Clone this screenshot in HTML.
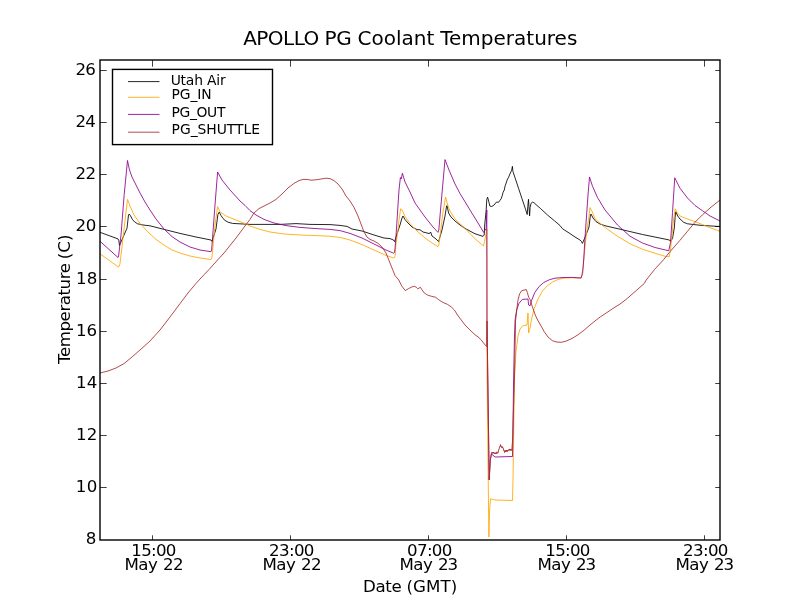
<!DOCTYPE html>
<html><head><meta charset="utf-8"><title>APOLLO PG Coolant Temperatures</title>
<style>
html,body{margin:0;padding:0;background:#fff;}
body{width:800px;height:600px;overflow:hidden;}
svg{display:block;}
text{font-family:"DejaVu Sans", "Liberation Sans", sans-serif;fill:#000;}
</style></head><body>
<svg width="800" height="600" viewBox="0 0 800 600">
<rect x="0" y="0" width="800" height="600" fill="#ffffff"/>
<defs><clipPath id="ax"><rect x="100" y="60" width="620" height="480"/></clipPath></defs>
<g clip-path="url(#ax)" fill="none" stroke-width="0.85" stroke-linejoin="round">
<path stroke="#000000" d="M100.00,232.30 L118.00,238.90 L118.80,240.50 L119.50,245.50 L120.20,243.80 L127.00,228.25 L128.50,214.90 L129.25,214.00 L130.50,215.80 L132.25,219.25 L134.50,221.80 L137.50,223.75 L141.00,224.60 L145.00,225.25 L150.00,225.80 L164.00,229.40 L180.00,233.40 L196.00,237.00 L211.00,240.00 L212.00,241.40 L216.00,229.00 L217.90,214.50 L219.20,212.20 L221.00,215.50 L223.00,218.50 L225.00,220.40 L228.00,222.20 L232.50,223.40 L250.00,224.40 L280.00,224.40 L296.00,223.60 L310.00,224.40 L330.00,224.60 L340.00,225.40 L347.00,226.40 L352.00,229.00 L362.00,231.00 L374.00,235.00 L384.00,238.00 L390.00,238.60 L393.50,240.00 L394.60,241.60 L397.00,234.00 L400.00,225.00 L402.00,218.00 L403.00,216.00 L405.00,219.60 L408.00,223.00 L412.00,227.00 L417.00,229.60 L420.00,229.80 L423.00,232.00 L427.00,233.00 L429.40,233.60 L430.60,232.00 L432.00,236.00 L436.00,239.00 L438.60,241.60 L442.00,230.00 L445.00,216.00 L446.60,206.00 L447.00,205.60 L448.60,213.00 L451.00,217.00 L455.00,221.00 L460.00,225.00 L465.00,228.40 L475.00,233.75 L483.00,236.40 L484.20,235.00 L484.70,225.00 L486.10,211.00 L486.80,199.30 L487.60,197.20 L488.70,201.10 L489.90,206.10 L491.70,206.50 L494.00,205.10 L496.30,202.20 L498.70,202.20 L499.80,200.50 L501.20,198.70 L502.20,195.80 L503.10,192.30 L504.30,190.00 L505.10,185.90 L506.20,183.00 L507.10,180.10 L508.60,177.20 L510.30,173.10 L511.70,170.20 L512.40,166.40 L512.90,171.30 L515.00,177.70 L518.50,188.20 L522.00,198.70 L525.50,209.20 L527.20,214.50 L527.80,206.30 L528.50,199.30 L529.00,207.50 L529.60,215.90 L530.10,207.50 L531.00,203.40 L532.50,202.20 L533.90,202.60 L536.00,204.60 L540.60,208.60 L547.60,215.10 L554.60,220.90 L560.00,225.50 L562.50,228.75 L570.00,233.60 L575.00,237.00 L580.00,240.00 L581.50,241.50 L582.40,243.40 L586.00,235.00 L589.00,227.00 L590.40,215.00 L591.00,214.00 L593.00,218.00 L596.00,221.60 L600.00,224.00 L606.00,226.00 L620.00,229.20 L642.50,234.50 L669.50,240.00 L670.50,241.25 L672.50,238.50 L674.30,228.00 L675.20,216.00 L675.80,211.80 L677.75,216.00 L680.00,219.00 L683.75,222.30 L687.50,223.80 L695.00,224.70 L702.50,225.50 L710.00,225.90 L720.00,226.50"/>
<path stroke="#ffa500" d="M100.00,253.75 L118.00,266.75 L118.75,267.00 L120.00,263.75 L127.50,199.40 L130.00,206.00 L134.00,215.00 L140.00,223.40 L148.00,232.00 L156.00,239.40 L164.00,245.00 L172.00,250.00 L180.00,253.00 L190.00,256.00 L200.00,258.00 L211.00,259.50 L211.80,258.00 L212.40,253.00 L215.00,225.00 L217.60,206.60 L220.00,212.00 L226.00,216.00 L236.00,220.00 L246.00,224.00 L250.00,226.00 L260.00,229.40 L270.00,232.00 L284.00,234.00 L300.00,235.00 L316.00,235.60 L330.00,236.20 L340.00,237.40 L350.00,240.00 L362.00,244.60 L374.00,250.00 L386.00,255.40 L393.60,258.00 L394.60,257.50 L395.20,255.50 L396.00,244.00 L397.60,233.00 L399.00,220.00 L400.60,208.80 L402.00,210.00 L403.00,212.00 L405.00,216.50 L410.00,223.50 L417.00,231.00 L425.00,238.00 L433.00,243.60 L438.00,246.60 L438.80,245.00 L440.00,236.00 L443.00,212.00 L445.60,197.00 L447.40,204.00 L450.00,211.00 L455.00,219.00 L465.00,228.40 L475.00,238.75 L483.60,246.00 L486.60,231.00 L486.90,229.00 L487.00,376.00 L488.90,537.00 L489.60,510.00 L490.50,498.75 L495.00,500.00 L512.50,500.50 L513.00,480.00 L514.40,380.00 L516.00,352.00 L518.00,336.00 L520.00,329.00 L523.00,325.60 L527.00,325.00 L528.00,312.90 L528.60,333.00 L530.00,328.00 L531.40,320.00 L534.20,308.40 L538.10,298.80 L542.60,290.90 L547.10,285.90 L552.75,281.90 L558.40,279.35 L564.00,278.10 L571.90,277.80 L581.10,278.30 L583.00,267.50 L586.25,235.00 L588.75,217.50 L590.00,207.50 L592.00,211.25 L595.00,218.75 L605.00,227.50 L617.50,236.25 L630.00,243.75 L642.50,249.25 L655.00,253.25 L665.00,256.25 L669.25,256.75 L670.50,250.00 L673.25,222.00 L675.20,208.80 L677.00,212.25 L680.00,216.00 L687.50,219.00 L695.00,221.70 L702.50,224.50 L710.00,227.70 L720.00,231.30"/>
<path stroke="#8b008b" d="M100.00,241.25 L118.00,257.50 L118.60,256.00 L121.00,235.00 L124.20,194.50 L127.50,160.50 L129.50,170.00 L132.00,177.00 L136.00,185.00 L140.00,193.00 L145.00,202.00 L150.00,210.00 L156.00,219.00 L164.00,229.00 L172.00,236.60 L180.00,242.00 L190.00,247.00 L200.00,250.00 L211.00,251.70 L211.60,250.00 L212.00,245.00 L215.00,205.00 L217.60,172.00 L222.00,180.00 L230.00,190.00 L240.00,201.00 L245.00,205.40 L250.00,210.60 L256.00,215.00 L264.00,219.40 L274.00,223.00 L286.00,225.60 L300.00,227.40 L316.00,228.60 L330.00,229.40 L340.00,230.60 L350.00,233.40 L362.00,238.00 L374.00,244.00 L386.00,250.00 L393.60,253.20 L394.40,252.50 L395.00,249.00 L396.00,236.00 L398.00,205.00 L399.00,190.00 L400.40,177.50 L401.30,179.00 L402.40,173.20 L405.00,182.00 L410.00,192.00 L415.00,203.00 L425.00,217.00 L433.00,227.00 L438.00,232.40 L438.80,230.00 L440.00,216.00 L443.00,182.00 L445.00,159.60 L449.00,170.00 L455.00,184.00 L460.00,193.50 L470.00,210.00 L480.00,226.25 L483.60,232.40 L486.20,228.50 L486.80,210.00 L487.00,321.00 L489.20,480.00 L490.30,460.00 L491.50,454.00 L495.00,457.00 L512.50,456.50 L512.80,440.00 L513.60,380.00 L514.40,340.00 L515.10,320.00 L516.75,309.50 L519.00,303.30 L522.40,299.40 L528.00,299.00 L528.60,305.00 L530.00,305.90 L531.40,301.00 L534.75,292.60 L539.25,286.40 L543.75,282.50 L549.40,279.70 L555.00,278.20 L562.90,277.50 L571.90,277.40 L581.10,277.90 L582.60,273.50 L583.70,260.00 L585.00,237.50 L588.00,195.00 L589.50,177.00 L592.50,186.25 L597.50,197.50 L605.00,210.00 L617.50,225.00 L630.00,236.25 L642.50,243.00 L655.00,247.50 L668.75,250.75 L670.50,242.50 L672.50,212.50 L674.75,177.75 L680.00,188.25 L687.50,198.00 L695.00,205.50 L702.50,210.75 L710.00,216.00 L720.00,221.00"/>
<path stroke="#a52a2a" d="M100.00,373.00 L108.00,371.00 L116.00,368.00 L124.00,363.60 L132.00,357.00 L140.00,350.00 L150.00,341.00 L160.00,330.00 L170.00,317.00 L180.00,303.60 L188.00,293.00 L196.00,283.40 L204.00,274.70 L209.00,269.60 L213.00,265.00 L224.00,253.00 L236.00,238.00 L248.00,222.00 L250.00,219.40 L254.00,213.00 L259.00,208.60 L264.00,206.00 L270.00,203.00 L276.00,199.40 L282.00,194.00 L288.00,188.00 L294.00,183.40 L299.00,180.60 L303.00,179.40 L307.00,179.40 L311.00,180.20 L316.00,179.80 L321.00,179.00 L326.00,178.20 L330.00,178.60 L334.00,180.60 L338.00,184.00 L342.00,189.00 L346.00,196.00 L350.00,201.00 L354.00,207.40 L358.00,216.00 L361.00,224.00 L364.00,232.00 L367.00,237.00 L370.00,239.40 L374.00,241.00 L378.00,243.40 L382.00,247.00 L386.00,253.00 L390.00,263.00 L393.00,270.50 L395.00,275.60 L398.75,280.00 L401.90,286.25 L405.25,290.60 L408.75,288.50 L411.90,286.90 L414.40,286.25 L416.25,287.25 L417.75,288.75 L419.00,288.10 L420.40,287.25 L421.90,289.75 L424.40,293.10 L427.50,295.00 L431.25,296.25 L435.60,297.25 L438.75,299.75 L443.10,302.50 L447.50,304.40 L451.25,306.90 L454.40,310.00 L457.50,315.00 L461.25,320.00 L465.00,325.00 L470.00,330.00 L475.00,334.75 L478.10,336.90 L481.25,340.00 L484.40,344.00 L486.60,346.50 L487.00,321.00 L489.20,479.50 L490.30,460.00 L491.50,452.51 L491.95,453.53 L492.40,452.20 L492.85,453.33 L493.30,452.00 L493.75,453.25 L494.20,452.63 L494.65,453.96 L495.10,452.80 L495.55,453.94 L496.00,452.70 L496.45,453.72 L496.90,451.80 L497.35,453.36 L497.80,452.35 L498.25,452.54 L498.70,449.42 L499.15,449.27 L499.60,446.72 L500.05,447.04 L500.50,444.48 L500.95,446.54 L501.40,446.32 L501.85,447.87 L502.30,446.54 L502.75,447.98 L503.20,447.85 L503.65,450.38 L504.10,450.09 L504.55,452.59 L505.00,450.65 L505.45,451.90 L505.90,450.11 L506.35,451.49 L506.80,450.21 L507.25,451.80 L507.70,450.01 L508.15,450.89 L508.60,449.69 L509.05,450.28 L509.50,448.95 L509.95,450.46 L510.40,449.19 L510.85,450.45 L511.30,449.32 L511.75,450.55 L512.60,440.00 L514.40,380.00 L515.60,320.00 L517.90,300.50 L519.60,293.75 L521.80,290.60 L524.00,290.15 L526.30,289.50 L527.40,292.60 L528.60,297.10 L530.25,299.90 L532.50,307.25 L535.30,315.10 L537.60,320.00 L540.50,325.00 L544.25,331.75 L548.00,337.00 L552.50,340.75 L557.00,342.10 L561.50,342.25 L566.00,341.20 L572.00,338.50 L578.00,334.75 L584.00,330.25 L590.00,325.00 L596.00,320.20 L600.50,316.75 L608.00,311.80 L614.00,307.75 L620.00,304.00 L626.00,299.50 L632.00,294.25 L638.00,289.00 L644.00,283.75 L646.25,280.00 L654.50,269.50 L663.50,259.75 L669.50,252.25 L680.00,240.25 L687.50,231.25 L695.00,222.25 L702.50,214.75 L710.00,208.00 L720.00,200.00"/>
</g>
<rect x="100" y="60" width="620" height="480" fill="none" stroke="#000" stroke-width="1.4"/>
<g stroke="#000" stroke-width="0.75">
<line x1="152.5" y1="540" x2="152.5" y2="535.3"/><line x1="152.5" y1="60" x2="152.5" y2="66.7"/>
<line x1="290.5" y1="540" x2="290.5" y2="535.3"/><line x1="290.5" y1="60" x2="290.5" y2="66.7"/>
<line x1="428.5" y1="540" x2="428.5" y2="535.3"/><line x1="428.5" y1="60" x2="428.5" y2="66.7"/>
<line x1="566.5" y1="540" x2="566.5" y2="535.3"/><line x1="566.5" y1="60" x2="566.5" y2="66.7"/>
<line x1="704.5" y1="540" x2="704.5" y2="535.3"/><line x1="704.5" y1="60" x2="704.5" y2="66.7"/>
<line x1="100" y1="487.50" x2="106.7" y2="487.50"/><line x1="720" y1="487.50" x2="715.2" y2="487.50"/>
<line x1="100" y1="435.50" x2="106.7" y2="435.50"/><line x1="720" y1="435.50" x2="715.2" y2="435.50"/>
<line x1="100" y1="383.50" x2="106.7" y2="383.50"/><line x1="720" y1="383.50" x2="715.2" y2="383.50"/>
<line x1="100" y1="331.50" x2="106.7" y2="331.50"/><line x1="720" y1="331.50" x2="715.2" y2="331.50"/>
<line x1="100" y1="279.50" x2="106.7" y2="279.50"/><line x1="720" y1="279.50" x2="715.2" y2="279.50"/>
<line x1="100" y1="226.50" x2="106.7" y2="226.50"/><line x1="720" y1="226.50" x2="715.2" y2="226.50"/>
<line x1="100" y1="174.50" x2="106.7" y2="174.50"/><line x1="720" y1="174.50" x2="715.2" y2="174.50"/>
<line x1="100" y1="122.50" x2="106.7" y2="122.50"/><line x1="720" y1="122.50" x2="715.2" y2="122.50"/>
<line x1="100" y1="70.50" x2="106.7" y2="70.50"/><line x1="720" y1="70.50" x2="715.2" y2="70.50"/>
</g>
<text x="85.75" y="544.00" font-size="16.67px" letter-spacing="0.000px">8</text>
<text x="75.75" y="492.00" font-size="16.67px" letter-spacing="0.500px">10</text>
<text x="76.05" y="440.00" font-size="16.67px" letter-spacing="0.050px">12</text>
<text x="76.05" y="388.00" font-size="16.67px" letter-spacing="0.100px">14</text>
<text x="76.05" y="336.00" font-size="16.67px" letter-spacing="-0.100px">16</text>
<text x="76.00" y="284.00" font-size="16.67px" letter-spacing="0.250px">18</text>
<text x="75.55" y="231.00" font-size="16.67px" letter-spacing="-0.350px">20</text>
<text x="75.55" y="179.00" font-size="16.67px" letter-spacing="-0.650px">22</text>
<text x="75.50" y="127.00" font-size="16.67px" letter-spacing="-0.750px">24</text>
<text x="75.50" y="75.00" font-size="16.67px" letter-spacing="-0.750px">26</text>
<text x="131.35" y="555.80" font-size="16.67px" letter-spacing="-0.750px">15:00</text>
<text y="569.80" font-size="16.67px"><tspan x="124.45" letter-spacing="-0.450px">May</tspan> <tspan x="162.95" letter-spacing="-0.650px">22</tspan></text>
<text x="269.05" y="555.80" font-size="16.67px" letter-spacing="-0.650px">23:00</text>
<text y="569.80" font-size="16.67px"><tspan x="262.45" letter-spacing="-0.450px">May</tspan> <tspan x="300.95" letter-spacing="-0.650px">22</tspan></text>
<text x="407.10" y="555.80" font-size="16.67px" letter-spacing="-0.688px">07:00</text>
<text y="569.80" font-size="16.67px"><tspan x="399.45" letter-spacing="-0.450px">May</tspan> <tspan x="437.95" letter-spacing="-0.950px">23</tspan></text>
<text x="545.35" y="555.80" font-size="16.67px" letter-spacing="-0.750px">15:00</text>
<text y="569.80" font-size="16.67px"><tspan x="537.45" letter-spacing="-0.450px">May</tspan> <tspan x="575.95" letter-spacing="-0.950px">23</tspan></text>
<text x="683.05" y="555.80" font-size="16.67px" letter-spacing="-0.650px">23:00</text>
<text y="569.80" font-size="16.67px"><tspan x="675.45" letter-spacing="-0.450px">May</tspan> <tspan x="713.95" letter-spacing="-0.950px">23</tspan></text>
<text y="44.50" font-size="20px"><tspan x="243.15" letter-spacing="-0.520px">APOLLO</tspan> <tspan x="324.60" letter-spacing="-0.350px">PG</tspan> <tspan x="357.50" letter-spacing="0.000px">Coolant</tspan> <tspan x="440.20" letter-spacing="0.005px">Temperatures</tspan></text>
<text y="591.75" font-size="16.67px"><tspan x="363.05" letter-spacing="-0.383px">Date</tspan> <tspan x="406.50" letter-spacing="0.100px">(GMT)</tspan></text>
<g transform="rotate(-90)"><text y="69.70" font-size="16.67px"><tspan x="-364.00" letter-spacing="-0.450px">Temperature</tspan> <tspan x="-259.20" letter-spacing="-0.025px">(C)</tspan></text></g>
<rect x="112.5" y="69.4" width="160" height="75.2" fill="#fff" stroke="#000" stroke-width="1.4"/>
<line x1="128" y1="81.6" x2="159.5" y2="81.6" stroke="#000000" stroke-width="0.85"/>
<text x="170.65" y="84.75" font-size="13.89px" letter-spacing="-0.200px">Utah Air</text>
<line x1="128" y1="97.3" x2="159.5" y2="97.3" stroke="#ffa500" stroke-width="0.85"/>
<text x="171.60" y="98.70" font-size="13.89px" letter-spacing="-0.150px">PG_IN</text>
<line x1="128" y1="114.4" x2="159.5" y2="114.4" stroke="#8b008b" stroke-width="0.85"/>
<text x="171.60" y="116.70" font-size="13.89px" letter-spacing="-0.370px">PG_OUT</text>
<line x1="128" y1="132.2" x2="159.5" y2="132.2" stroke="#a52a2a" stroke-width="0.85"/>
<text x="171.60" y="133.80" font-size="13.89px" letter-spacing="-0.039px">PG_SHUTTLE</text>
</svg></body></html>
